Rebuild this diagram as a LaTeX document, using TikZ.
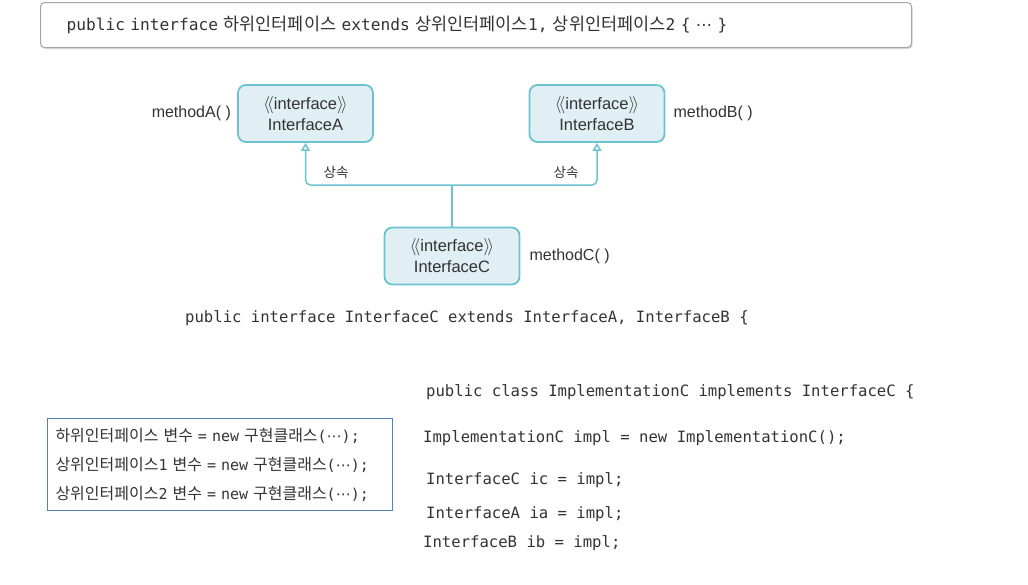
\documentclass[tikz,border=0pt]{standalone}
\usepackage{fontspec}
\setmainfont{Liberation Sans}
\newfontfamily\krfont{Noto Sans CJK KR}
\newfontfamily\codefont{DejaVu Sans Mono}
\newfontfamily\dotfont{DejaVu Sans}
\usetikzlibrary{arrows.meta,positioning,shadows}
\definecolor{ifline}{HTML}{6CC3CF}
\definecolor{iffill}{HTML}{E0EFF4}
\definecolor{txtgray}{HTML}{333333}
\definecolor{varline}{HTML}{5580BB}
\newcommand{\kr}[2][16]{{\krfont\fontsize{#1}{#1}\selectfont #2}}
\newcommand{\midell}{{\dotfont ⋯}}
\newcommand{\ifname}[1]{$\langle\!\langle$interface$\rangle\!\rangle$\\#1}

\begin{document}
\begin{tikzpicture}[x=1pt,y=-1pt,>={Triangle[open,length=8pt,width=9pt]},
  ifbox/.style={draw=ifline,fill=iffill,line width=1.8pt,rounded corners=8pt,
    minimum width=135pt,minimum height=57pt,align=center,text=txtgray,
    font=\fontsize{16.5}{21}\selectfont},
  inherit/.style={draw=ifline,line width=1.5pt,rounded corners=5pt},
  method/.style={font=\fontsize{16}{18}\selectfont,text=txtgray,inner sep=0pt},
  code/.style={anchor=west,inner sep=0pt,text=txtgray,
    font=\codefont\fontsize{15.6}{18}\selectfont}]
  \useasboundingbox (0,0) rectangle (1028,584);

  % general form of the declaration
  \node[draw=gray!70,line width=1pt,rounded corners=4pt,anchor=north west,
    minimum width=871pt,minimum height=45pt,text width=819pt,inner xsep=26pt,
    align=left,fill=white,text=txtgray,
    drop shadow={shadow xshift=1pt,shadow yshift=-1.5pt,opacity=.3},
    font=\codefont\fontsize{16.2}{18}\selectfont] (decl) at (40,2)
    {public interface \kr[17.5]{하위인터페이스} extends \kr[17.5]{상위인터페이스}1,
     \kr[17.5]{상위인터페이스}2 \{ \midell{} \}};

  % interfaces
  \node[ifbox] (ifA) at (305.5,113.5) {\ifname{InterfaceA}};
  \node[ifbox] (ifB) at (597,113.5) {\ifname{InterfaceB}};
  \node[ifbox] (ifC) at (452,256) {\ifname{InterfaceC}};

  \node[method,left=6pt of ifA] (mA) {methodA( )};
  \node[method,right=8pt of ifB] (mB) {methodB( )};
  \node[method,right=9pt of ifC] (mC) {methodC( )};

  % inheritance
  \coordinate (join) at (ifC.north |- 0,185);
  \draw[inherit] (ifC.north) -- (join);
  \draw[inherit,->] (join) -| (ifA.south);
  \draw[inherit,->] (join) -| (ifB.south);
  \node[text=txtgray,font=\krfont\fontsize{13.5}{14}\selectfont] (inhA) at (336,172) {상속};
  \node[text=txtgray,font=\krfont\fontsize{13.5}{14}\selectfont] (inhB) at (566,172) {상속};

  \node[code] (ext) at (185,318)
    {public interface InterfaceC extends InterfaceA, InterfaceB \{};

  % variables
  \node[draw=varline,line width=1pt,anchor=north west,minimum width=345pt,
    minimum height=92pt,text width=329pt,inner xsep=8pt,align=left,text=txtgray,
    font=\codefont\fontsize{15}{29}\selectfont] (vars) at (47,418)
    {\kr{하위인터페이스} \kr{변수} = new \kr{구현클래스}(\midell);\\
     \kr{상위인터페이스}1 \kr{변수} = new \kr{구현클래스}(\midell);\\
     \kr{상위인터페이스}2 \kr{변수} = new \kr{구현클래스}(\midell);};

  % implementation
  \node[code] (impl) at (426,392) {public class ImplementationC implements InterfaceC \{};
  \node[code] (inst) at (423,438) {ImplementationC impl = new ImplementationC();};
  \node[code] (varC) at (426,480) {InterfaceC ic = impl;};
  \node[code] (varA) at (426,514) {InterfaceA ia = impl;};
  \node[code] (varB) at (423,543) {InterfaceB ib = impl;};
\end{tikzpicture}
\end{document}
